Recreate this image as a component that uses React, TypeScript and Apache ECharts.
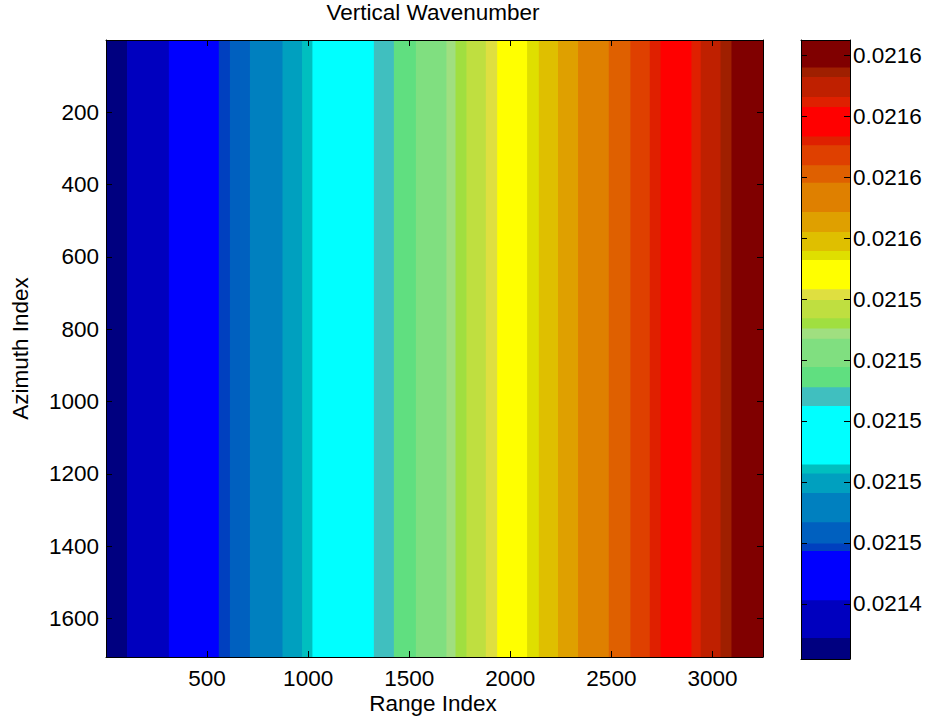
import React, { useEffect, useRef } from "react";
import * as echarts from "echarts";

// Band edges along Range Index (contour bands are vertical stripes)
const rangeEdges = [0, 104, 311, 558, 613, 712, 873, 970, 1021, 1325, 1424, 1533, 1684, 1729, 1783, 1879, 1935, 2083, 2141, 2236, 2335, 2487, 2594, 2690, 2743, 2896, 2942, 3040, 3094, 3250];
// Matching contour level edges (colorbar)
const levelEdges = [0.0214219, 0.0214288, 0.0214412, 0.0214573, 0.0214598, 0.0214668, 0.0214764, 0.0214828, 0.0214857, 0.0215049, 0.0215111, 0.0215177, 0.021527, 0.0215303, 0.0215337, 0.0215397, 0.0215432, 0.0215528, 0.0215558, 0.021562, 0.0215686, 0.0215782, 0.0215839, 0.0215905, 0.0215933, 0.021603, 0.0216063, 0.0216129, 0.021616, 0.021625];
const bandColors = [
  "#000080", "#0000BF", "#0000FF", "#0040BF", "#0060BF", "#0080BF", "#00A0BF", "#00BFBF",
  "#00FFFF", "#40BFBF", "#60DF80", "#80DF80", "#A0DF80", "#A0DF40", "#BFDF40", "#DFDF40",
  "#FFFF00", "#DFDF00", "#DFBF00", "#DFA000", "#DF8000", "#DF6000", "#DF4000", "#DF2000",
  "#FF0000", "#DF2000", "#BF2000", "#9F1F00", "#800000",
];
const rangeTicks = [500, 1000, 1500, 2000, 2500, 3000];
const azimuthTicks = [200, 400, 600, 800, 1000, 1200, 1400, 1600];
const levelTicks = [0.02144, 0.02146, 0.02148, 0.0215, 0.02152, 0.02154, 0.02156, 0.02158, 0.0216, 0.02162];
const azimuthExtent = [0, 1706];
const rangeExtent = [0, 3250];

const FONT = "'Liberation Sans', Arial, sans-serif";
const FS = 22.5;

export default function App() {
  const ref = useRef<HTMLDivElement>(null);
  useEffect(() => {
    if (!ref.current) return;
    const chart = echarts.init(ref.current, null, { renderer: "svg" });

    const bandData = rangeEdges.slice(0, -1).map((x0, i) => [x0, rangeEdges[i + 1], i]);
    const levelData = levelEdges.slice(0, -1).map((v0, i) => [v0, levelEdges[i + 1], i]);
    const last = bandColors.length - 1;

    const tickStyle = { inside: true, length: 6, lineStyle: { color: "#000", width: 1 } };
    const lineStyle = { show: true, onZero: false, lineStyle: { color: "#000", width: 1 } };
    const labelStyle = { color: "#000", fontSize: FS, fontFamily: FONT };
    const plain = (v: number) => String(v);

    const option: any = {
      animation: false,
      backgroundColor: "#fff",
      grid: [
        { left: 106, top: 40, width: 657, height: 617 },
        { left: 801, top: 40, width: 49, height: 619 },
      ],
      xAxis: [
        {
          type: "value", gridIndex: 0, min: rangeExtent[0], max: rangeExtent[1], position: "bottom", z: 10,
          axisLine: lineStyle, splitLine: { show: false },
          axisTick: { ...tickStyle, customValues: rangeTicks },
          axisLabel: { ...labelStyle, customValues: rangeTicks, margin: 21.5, verticalAlign: "middle", formatter: plain },
        },
        {
          type: "value", gridIndex: 0, min: rangeExtent[0], max: rangeExtent[1], position: "top", z: 10,
          axisLine: lineStyle, splitLine: { show: false },
          axisTick: { ...tickStyle, customValues: rangeTicks },
          axisLabel: { show: false },
        },
        {
          type: "value", gridIndex: 1, min: 0, max: 1, position: "bottom", z: 10,
          axisLine: lineStyle, splitLine: { show: false }, axisTick: { show: false }, axisLabel: { show: false },
        },
        {
          type: "value", gridIndex: 1, min: 0, max: 1, position: "top", z: 10,
          axisLine: lineStyle, splitLine: { show: false }, axisTick: { show: false }, axisLabel: { show: false },
        },
      ],
      yAxis: [
        {
          type: "value", gridIndex: 0, inverse: true, min: azimuthExtent[0], max: azimuthExtent[1], position: "left", z: 10,
          axisLine: lineStyle, splitLine: { show: false },
          axisTick: { ...tickStyle, customValues: azimuthTicks },
          axisLabel: { ...labelStyle, customValues: azimuthTicks, margin: 7, formatter: plain },
        },
        {
          type: "value", gridIndex: 0, inverse: true, min: azimuthExtent[0], max: azimuthExtent[1], position: "right", z: 10,
          axisLine: lineStyle, splitLine: { show: false },
          axisTick: { ...tickStyle, customValues: azimuthTicks },
          axisLabel: { show: false },
        },
        {
          type: "value", gridIndex: 1, min: levelEdges[0], max: levelEdges[levelEdges.length - 1], position: "right", z: 10,
          axisLine: lineStyle, splitLine: { show: false },
          axisTick: { ...tickStyle, customValues: levelTicks },
          axisLabel: { ...labelStyle, customValues: levelTicks, margin: 3, formatter: (v: number) => v.toFixed(4) },
        },
        {
          type: "value", gridIndex: 1, min: levelEdges[0], max: levelEdges[levelEdges.length - 1], position: "left", z: 10,
          axisLine: lineStyle, splitLine: { show: false },
          axisTick: { ...tickStyle, customValues: levelTicks },
          axisLabel: { show: false },
        },
      ],
      series: [
        {
          type: "custom", xAxisIndex: 0, yAxisIndex: 0, silent: true,
          encode: { x: [0, 1], y: 2 },
          data: bandData,
          renderItem: (_params: any, api: any) => {
            const i = api.value(2);
            const p0 = api.coord([api.value(0), azimuthExtent[0]]);
            const p1 = api.coord([api.value(1), azimuthExtent[1]]);
            const extra = i < last ? 0.8 : 0;
            return {
              type: "rect",
              shape: { x: p0[0], y: Math.min(p0[1], p1[1]), width: p1[0] - p0[0] + extra, height: Math.abs(p1[1] - p0[1]) },
              style: { fill: bandColors[i], stroke: null },
            };
          },
        },
        {
          type: "custom", xAxisIndex: 2, yAxisIndex: 2, silent: true,
          encode: { y: [0, 1], x: 2 },
          data: levelData,
          renderItem: (_params: any, api: any) => {
            const i = api.value(2);
            const p0 = api.coord([0, api.value(0)]);
            const p1 = api.coord([1, api.value(1)]);
            const extra = i < last ? 0.8 : 0;
            const top = Math.min(p0[1], p1[1]);
            return {
              type: "rect",
              shape: { x: p0[0], y: top - extra, width: p1[0] - p0[0], height: Math.abs(p1[1] - p0[1]) + extra },
              style: { fill: bandColors[i], stroke: null },
            };
          },
        },
      ],
      graphic: [
        {
          type: "text", x: 433, y: 12,
          style: { text: "Vertical Wavenumber", fontSize: FS, fontFamily: FONT, fill: "#000", align: "center", verticalAlign: "middle" },
        },
        {
          type: "text", x: 433, y: 703,
          style: { text: "Range Index", fontSize: FS, fontFamily: FONT, fill: "#000", align: "center", verticalAlign: "middle" },
        },
        {
          type: "text", x: 20, y: 348.5, rotation: Math.PI / 2,
          style: { text: "Azimuth Index", fontSize: FS, fontFamily: FONT, fill: "#000", align: "center", verticalAlign: "middle" },
        },
      ],
    };
    chart.setOption(option);
    return () => chart.dispose();
  }, []);
  return <div ref={ref} style={{ position: "absolute", left: 0, top: 0, width: 928, height: 726 }} />;
}
